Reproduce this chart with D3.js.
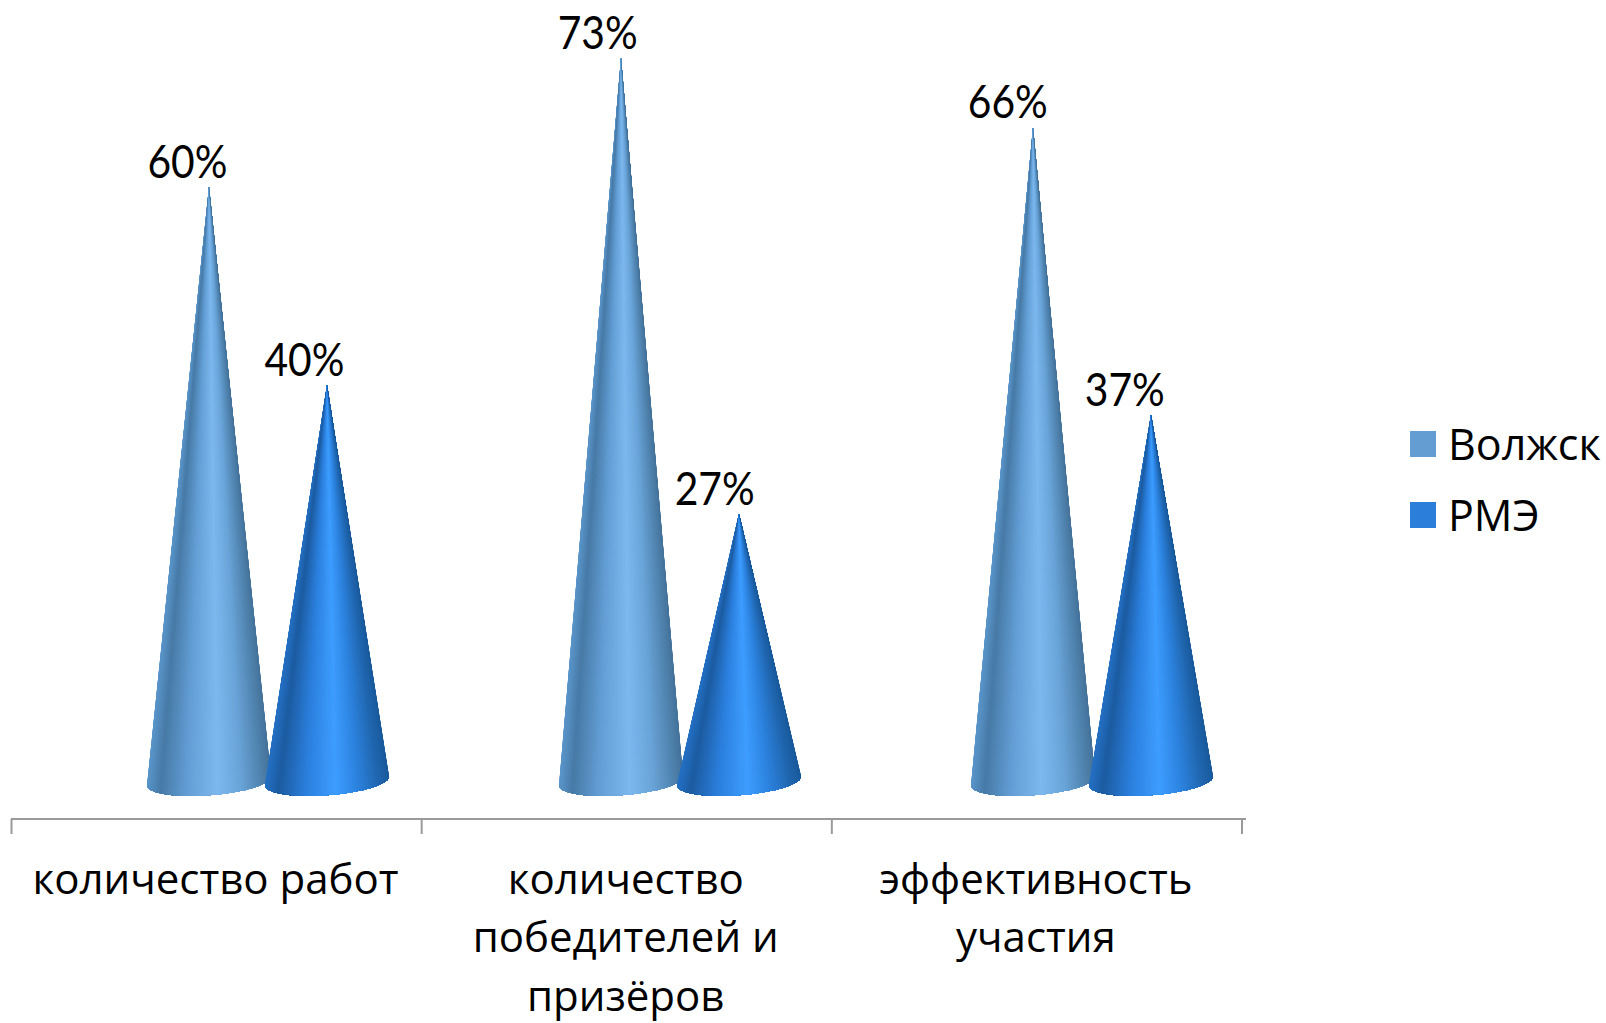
<!DOCTYPE html>
<html><head><meta charset="utf-8">
<script src="https://d3js.org/d3.v7.min.js"></script>
<style>html,body{margin:0;padding:0;background:#fff}svg{display:block}</style>
</head><body><div id="c"></div>
<script>
const categories = [["количество работ"],["количество","победителей и","призёров"],["эффективность","участия"]];
const categoryKeys = ["количество работ","количество победителей и призёров","эффективность участия"];
const seriesNames = ["Волжск","РМЭ"];
const volzhsk = [60,73,66];
const rme = [40,27,37];
const legendColors = ["#639dd2","#2b7ed9"];
const shadeStops = [0,0.1,0.32,0.56,0.74,0.92,1];
const shadeVolzhsk = ["#5a95ca","#477aa6","#639fd6","#7cb8ee","#6aa5da","#4f82ad","#45739b"];
const shadeRme = ["#2470c4","#1c5ba0","#2b7fdd","#3d9dff","#2c82de","#1f64ac","#1a5a9c"];

const W=1606,H=1023;
const svg=d3.select("#c").append("svg").attr("width",W).attr("height",H);
const yScale=d3.scaleLinear().domain([0,73]).range([781,58]);
const xAxisScale=d3.scaleBand().domain(categoryKeys).range([11.5,1242]);
const xCone=d3.scaleBand().domain(categoryKeys).range([62,1298]);
const half=59, rx=62, ry=14.3, skew=4.5, N=90, delta=0.2;
const seriesData=[volzhsk,rme];
const shades=[shadeVolzhsk,shadeRme];

seriesData.forEach((vals,si)=>{
  const shade=d3.scaleLinear().domain(shadeStops).range(shades[si]);
  const g=svg.append("g").attr("class","series");
  vals.forEach((v,ci)=>{
    const cx=xCone(categoryKeys[ci])+xCone.bandwidth()/2+(si===0?-half:half);
    const apex=[cx,yScale(v)], y0=yScale(0);
    const base=d3.range(N+1).map(i=>{
      const t=Math.PI+delta-(Math.PI+2*delta)*i/N;
      return [cx+rx*Math.cos(t), y0+ry*Math.sin(t)-skew*Math.cos(t)];
    });
    const line=d3.line();
    base.slice(0,N).forEach((p,i)=>{
      const u=(p[0]-(cx-rx))/(2*rx);
      g.append("path").attr("d",line([apex,...base.slice(i)])+"Z").attr("fill",shade(u));
    });
    const lx=xAxisScale(categoryKeys[ci])+xAxisScale.bandwidth()/2+29.4+(si===0?-58.5:58.5);
    svg.append("text").attr("x",lx).attr("y",yScale(v)-9)
      .attr("text-anchor","middle").attr("font-family","Lato").attr("font-size",46)
      .attr("textLength",80).attr("lengthAdjust","spacingAndGlyphs")
      .attr("fill","#000").text(v+"%");
  });
});

// axis
const axisColor="#9a9a9a";
svg.append("line").attr("x1",11).attr("x2",1246).attr("y1",819).attr("y2",819).attr("stroke",axisColor).attr("stroke-width",2);
const tickXs=[...categoryKeys.map(k=>xAxisScale(k)),xAxisScale.range()[1]];
svg.selectAll(".tk").data(tickXs).enter().append("line")
  .attr("x1",d=>d).attr("x2",d=>d).attr("y1",819).attr("y2",834)
  .attr("stroke",axisColor).attr("stroke-width",2);

categories.forEach((lines,ci)=>{
  const cx=xAxisScale(categoryKeys[ci])+xAxisScale.bandwidth()/2;
  lines.forEach((t,li)=>{
    svg.append("text").attr("x",cx-1).attr("y",894+li*58.3)
      .attr("text-anchor","middle").attr("font-family","Open Sans").attr("font-size",42)
      .attr("fill","#000").text(t);
  });
});

seriesNames.forEach((n,i)=>{
  const y=431+i*71;
  svg.append("rect").attr("x",1410).attr("y",y).attr("width",26).attr("height",26).attr("fill",legendColors[i]);
  svg.append("text").attr("x",1448).attr("y",y+29).attr("font-family","Open Sans").attr("font-size",43).attr("fill","#000").text(n);
});
</script></body></html>
